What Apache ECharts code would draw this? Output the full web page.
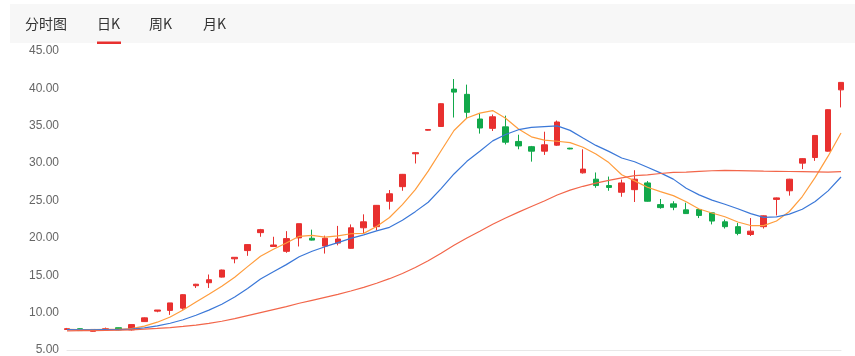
<!DOCTYPE html>
<html>
<head>
<meta charset="utf-8">
<script src="https://cdn.jsdelivr.net/npm/echarts@6/dist/echarts.min.js"></script>
<style>
html,body{margin:0;padding:0;background:#fff;}
#chart{width:855px;height:356px;}
</style>
</head>
<body>
<div id="chart"></div>
<script>
// ---- data ----
var categories = ['1','2','3','4','5','6','7','8','9','10','11','12','13','14','15','16','17','18','19','20',
  '21','22','23','24','25','26','27','28','29','30','31','32','33','34','35','36','37','38','39','40',
  '41','42','43','44','45','46','47','48','49','50','51','52','53','54','55','56','57','58','59','60','61'];
var opens  = [7.75,7.85,7.5,7.7,7.98,7.7,8.8,10.2,10.3,10.6,13.6,14.0,14.75,17.2,18.3,20.7,18.85,18.2,20.0,19.95,
  18.9,19.3,18.6,21.35,21.5,24.9,26.85,31.25,34.4,34.9,39.9,39.2,35.9,34.65,34.85,32.9,32.2,31.6,32.4,32.0,
  28.7,27.85,27.0,26.1,26.45,27.35,24.45,24.55,23.75,23.8,23.35,22.15,21.5,20.45,21.5,25.15,26.3,30.0,30.75,31.6,39.8];
var closes = [7.85,7.6,7.75,7.85,7.7,8.4,9.3,10.35,11.3,12.4,13.8,14.4,15.7,17.4,19.1,21.1,19.05,19.9,21.9,19.7,
  19.95,19.85,21.35,22.15,24.35,25.9,28.5,31.4,34.5,37.95,39.5,36.8,34.7,36.2,32.8,32.3,31.6,32.45,35.5,31.9,
  29.2,27.0,26.75,27.35,27.85,24.9,24.05,24.1,23.25,23.0,22.25,21.5,20.6,20.9,22.95,25.35,27.85,30.6,33.7,37.15,40.8];
var lows   = [7.7,7.55,7.45,7.65,7.65,7.6,8.75,10.05,9.7,10.4,13.3,13.3,14.7,16.6,17.6,20.15,18.8,18.0,18.85,19.65,
  17.9,19.0,18.55,20.6,21.0,23.8,26.3,29.95,34.35,34.85,36.1,35.9,33.95,34.3,32.5,31.85,30.2,31.1,32.3,31.85,
  28.6,26.7,26.3,25.5,24.8,24.85,23.9,23.7,23.2,22.65,21.8,21.25,20.35,20.25,21.25,23.0,25.65,29.2,30.3,31.55,37.45];
var highs  = [7.95,7.9,7.8,8.0,8.0,8.45,9.35,10.35,11.3,12.45,13.85,15.1,15.75,17.4,19.15,21.2,20.15,20.9,21.9,21.1,
  20.3,21.6,21.8,23.15,24.4,26.4,28.55,31.45,34.55,38.0,41.25,40.5,36.7,36.5,36.35,33.8,32.3,34.2,35.7,32.05,
  31.85,28.75,28.2,27.8,29.05,27.6,25.2,24.9,24.7,23.85,23.4,22.45,22.0,22.65,23.0,25.4,27.9,30.65,33.75,37.2,40.85];
var ma5  = [7.75,7.72,7.73,7.76,7.75,7.86,8.2,8.72,9.41,10.35,11.43,12.45,13.52,14.74,16.15,17.54,18.47,19.31,20.21,20.33,
  20.1,20.26,20.55,20.6,21.53,22.72,24.45,26.46,28.93,31.65,34.37,36.03,36.69,37.03,36.0,34.56,33.52,33.07,32.93,32.75,
  32.13,31.21,30.07,28.44,27.63,26.77,26.18,25.65,24.83,23.86,23.33,22.82,22.12,21.65,21.64,22.26,23.53,25.53,28.09,30.93,34.02];
var ma10 = [7.72,7.71,7.71,7.73,7.73,7.8,7.96,8.22,8.58,9.05,9.65,10.33,11.12,12.08,13.22,14.49,15.46,16.42,17.48,18.21,
  18.82,19.37,19.93,20.41,20.93,21.41,22.36,23.51,24.77,26.59,28.55,30.24,31.58,32.98,33.83,34.47,34.78,34.88,34.98,34.38,
  33.35,32.37,31.57,30.69,30.19,29.45,28.7,27.86,26.64,25.75,25.05,24.5,23.89,23.24,22.75,22.8,23.18,23.83,24.87,26.29,28.14];
var ma30 = [7.56,7.58,7.6,7.62,7.65,7.7,7.78,7.88,8.0,8.15,8.33,8.55,8.85,9.2,9.6,10.0,10.4,10.8,11.25,11.65,
  12.05,12.45,12.89,13.37,13.93,14.54,15.24,16.04,16.94,17.95,19.0,19.98,20.88,21.82,22.66,23.45,24.2,24.93,25.74,26.39,
  26.9,27.32,27.69,28.02,28.32,28.44,28.61,28.75,28.79,28.9,28.98,29.04,29.01,28.97,28.92,28.9,28.88,28.86,28.83,28.8,28.85];
var yTicks = [5,10,15,20,25,30,35,40,45];
var tabs = ['分时图','日K','周K','月K'];

var candleData = opens.map(function(o,i){ return [o, closes[i], lows[i], highs[i]]; });

var UP = '#e8302f', DOWN = '#11a84a';
var tabX = [25, 97, 149, 203];
var tabFont = '14px "Noto Sans CJK SC"';

var chart = echarts.init(document.getElementById('chart'), null, {renderer:'canvas'});
chart.setOption({
  animation:false,
  backgroundColor:'#fff',
  grid:{left:67, right:14, top:51, height:303},
  graphic:[
    {type:'rect', shape:{x:10,y:4,width:845,height:39}, style:{fill:'#f7f7f7'}, z:0},
    {type:'text', left:tabX[0], top:17, style:{text:tabs[0], fill:'#333', font:tabFont}},
    {type:'text', left:tabX[1], top:17, style:{text:tabs[1], fill:'#333', font:tabFont}},
    {type:'text', left:tabX[2], top:17, style:{text:tabs[2], fill:'#333', font:tabFont}},
    {type:'text', left:tabX[3], top:17, style:{text:tabs[3], fill:'#333', font:tabFont}},
    {type:'rect', shape:{x:97,y:41.5,width:24,height:2.5}, style:{fill:'#e8302f'}}
  ],
  xAxis:{
    type:'category', data:categories, boundaryGap:false,
    axisLine:{show:true, lineStyle:{color:'#e8e8e8'}},
    axisTick:{show:false}, axisLabel:{show:false}, splitLine:{show:false}
  },
  yAxis:{
    type:'value', min:yTicks[0], max:yTicks[yTicks.length-1], interval:5,
    axisLine:{show:false}, axisTick:{show:false},
    splitLine:{show:false},
    axisLabel:{color:'#666', fontSize:12, fontFamily:'"Liberation Sans", Arial, sans-serif', margin:8,
      formatter:function(v){ return v.toFixed(2); }}
  },
  series:[
    {type:'candlestick', data:candleData, barWidth:6, clip:false,
      itemStyle:{color:UP, color0:DOWN, borderColor:UP, borderColor0:DOWN, borderWidth:1}},
    {type:'line', data:ma5, showSymbol:false, symbol:'none', lineStyle:{color:'#ff9d3d', width:1.2}, z:3},
    {type:'line', data:ma10, showSymbol:false, symbol:'none', lineStyle:{color:'#3b78d8', width:1.2}, z:3},
    {type:'line', data:ma30, showSymbol:false, symbol:'none', lineStyle:{color:'#f2664a', width:1.2}, z:3}
  ]
});
</script>
</body>
</html>
